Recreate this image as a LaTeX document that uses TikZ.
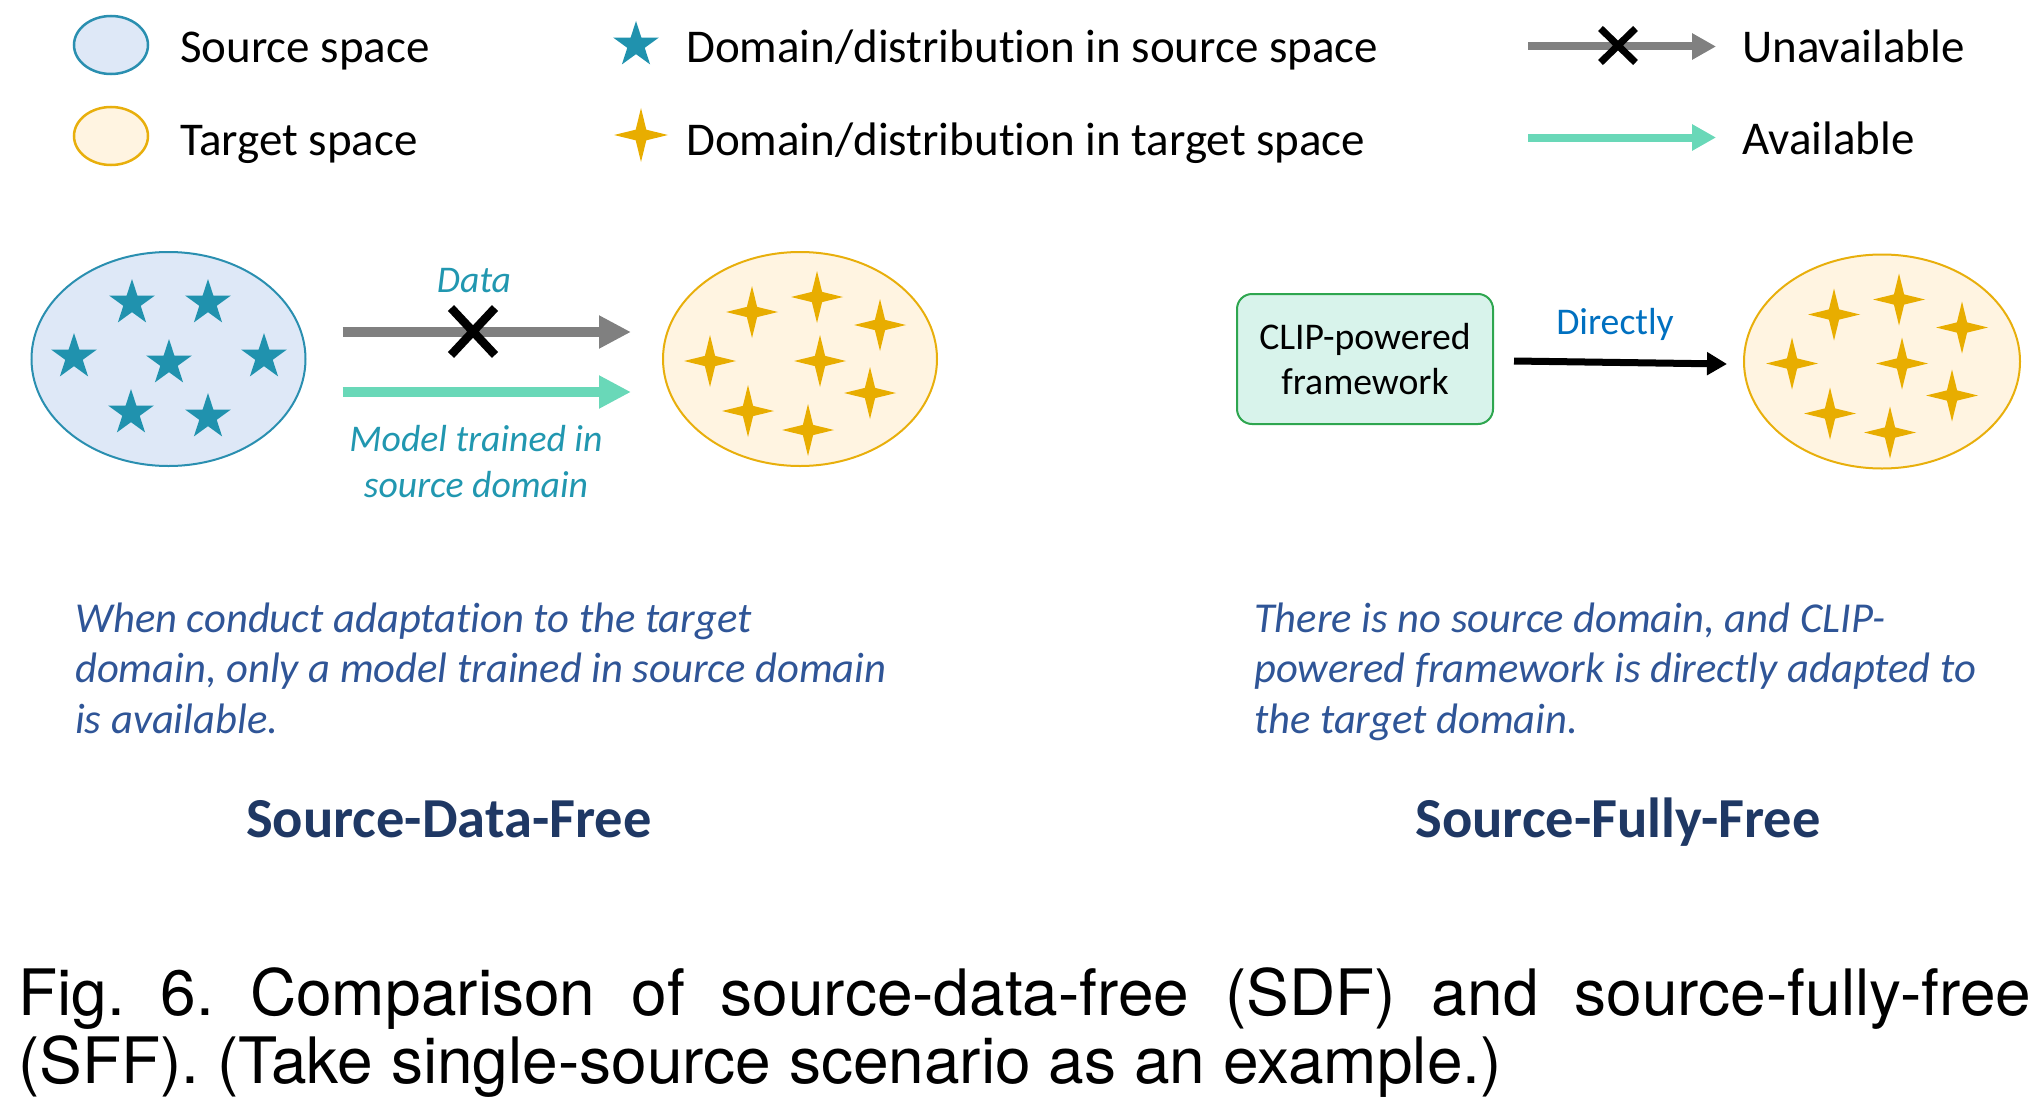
\documentclass[tikz,border=0pt]{standalone}
\usepackage{fontspec}
\setmainfont[Ligatures=CommonOff]{Carlito}
\newfontfamily\capfont{TeX Gyre Heros}
\usetikzlibrary{shapes.geometric,arrows.meta,calc}
\definecolor{starblue}{HTML}{2092AE}
\definecolor{srcfill}{HTML}{DEE8F7}
\definecolor{srcline}{HTML}{2A8FB0}
\definecolor{starorange}{HTML}{E8AD00}
\definecolor{tgtfill}{HTML}{FFF4E1}
\definecolor{tgtline}{HTML}{E8AF0C}
\definecolor{arrowgray}{HTML}{808080}
\definecolor{arrowteal}{HTML}{69D8B8}
\definecolor{labelteal}{HTML}{2197B0}
\definecolor{directblue}{HTML}{0070C0}
\definecolor{desccol}{HTML}{2F5597}
\definecolor{titlecol}{HTML}{1F3864}
\definecolor{clipfill}{HTML}{D8F3EB}
\definecolor{clipline}{HTML}{2EA64F}
\frenchspacing
\begin{document}
\begin{tikzpicture}[x=1pt,y=-1pt,
  srcell/.style={ellipse, draw=srcline, fill=srcfill, line width=2pt, inner sep=0pt},
  tgtell/.style={ellipse, draw=tgtline, fill=tgtfill, line width=2pt, inner sep=0pt},
  bstar/.style={star, star points=5, star point ratio=2.618, fill=starblue, draw=none, inner sep=0pt, minimum size=48pt},
  ostar/.style={star, star points=4, star point ratio=3.6, fill=starorange, draw=none, inner sep=0pt, minimum size=52pt},
  legtxt/.style={anchor=base west, inner sep=0pt, font=\fontsize{47}{56}\selectfont},
  grayarrow/.style={draw=arrowgray, line width=10pt, -{Triangle[length=32pt,width=31pt]}},
  tealarrow/.style={draw=arrowteal, line width=10pt, -{Triangle[length=32pt,width=31pt]}},
  lgrayarrow/.style={draw=arrowgray, line width=8pt, -{Triangle[length=24pt,width=25pt]}},
  ltealarrow/.style={draw=arrowteal, line width=8pt, -{Triangle[length=24pt,width=25pt]}},
  blackarrow/.style={draw=black, line width=7pt, -{Triangle[length=20pt,width=22pt]}},
  xmark/.style={draw=black, line cap=butt},
  lbltxt/.style={anchor=base, inner sep=0pt, text=labelteal, font=\itshape\fontsize{37.7}{45}\selectfont},
  desctxt/.style={anchor=base west, inner sep=0pt, text=desccol, font=\itshape\fontsize{42.6}{50}\selectfont},
  titletxt/.style={anchor=base, inner sep=0pt, text=titlecol, font=\bfseries\fontsize{56.5}{66}\selectfont},
  captxt/.style={anchor=base west, inner sep=0pt, font=\capfont\fontsize{64}{68}\selectfont},
]
\useasboundingbox (0,0) rectangle (2041,1105);

% ---------- legend ----------
\node[srcell, line width=2.5pt, minimum width=74pt, minimum height=58pt] (lsrc) at (111,45) {};
\node[tgtell, line width=2.5pt, minimum width=74pt, minimum height=58pt] (ltgt) at (111,136) {};
\node[legtxt] (lsrctxt) at (180,63) {Source space};
\node[legtxt] (ltgttxt) at (180,155) {Target space};
\node[bstar] (lbstar) at (636,45) {};
\node[ostar, minimum size=54pt] (lostar) at (641,135) {};
\node[legtxt] (lbtxt) at (686,63) {Domain/distribution in source space};
\node[legtxt] (lotxt) at (686,155) {Domain/distribution in target space};
\coordinate (lga) at (1528,46.5);
\coordinate (lgb) at (1716,46.5);
\draw[lgrayarrow] (lga) -- (lgb);
\draw[xmark, line width=7pt] (1618,45.5) +(-17.5,-17) -- +(17.5,17) +(-17.5,17) -- +(17.5,-17);
\coordinate (lta) at (1528,137.5);
\coordinate (ltb) at (1716,137.5);
\draw[ltealarrow] (lta) -- (ltb);
\node[legtxt] (unavtxt) at (1742,63) {Unavailable};
\node[legtxt] (avtxt) at (1742,154) {Available};

% ---------- source-data-free ----------
\node[srcell, minimum width=274pt, minimum height=214pt] (src) at (168.5,359) {};
\foreach \p [count=\i] in {(132,303),(208,303),(74,357),(169,363),(264,357),(131,413),(208,417)}
  \node[bstar] (bs\i) at \p {};
\node[tgtell, minimum width=274pt, minimum height=214pt] (tgt) at (800,359) {};
\foreach \p [count=\i] in {(752,312),(817,297),(880,325),(710,361),(820,361),(870,393),(748,411),(808,430)}
  \node[ostar] (ta\i) at \p {};
\draw[grayarrow] ([xshift=36pt,yshift=27pt]src.east) -- ([xshift=-31pt,yshift=27pt]tgt.west);
\draw[xmark, line width=8.5pt] (473,331.5) +(-22,-23.5) -- +(22,23.5) +(-22,23.5) -- +(22,-23.5);
\draw[tealarrow] ([xshift=36pt,yshift=-33pt]src.east) -- ([xshift=-31pt,yshift=-33pt]tgt.west);
\node[lbltxt] (datatxt) at (474,292) {Data};
\node[lbltxt] (modeltxt1) at (476,451) {Model trained in};
\node[lbltxt] (modeltxt2) at (476,497) {source domain};

\node[desctxt] (dl1) at (75,632) {When conduct adaptation to the target};
\node[desctxt] (dl2) at (75,682) {domain, only a model trained in source domain};
\node[desctxt] (dl3) at (75,733) {is available.};
\node[titletxt] (sdf) at (449,837) {Source-Data-Free};

% ---------- source-fully-free ----------
\node[draw=clipline, fill=clipfill, line width=2pt, rounded corners=15pt,
      minimum width=256pt, minimum height=130pt, inner sep=0pt, align=center,
      font=\fontsize{37.7}{45}\selectfont] (clip) at (1365,359) {CLIP-powered\\framework};
\node[tgtell, minimum width=276pt, minimum height=214pt] (tgt2) at (1882,361.5) {};
\begin{scope}[shift={(1082,2.5)}]
\foreach \p [count=\i] in {(752,312),(817,297),(880,325),(710,361),(820,361),(870,393),(748,411),(808,430)}
  \node[ostar] (tb\i) at \p {};
\end{scope}
\draw[blackarrow] ([xshift=20pt,yshift=-2pt]clip.east) -- ([xshift=-16pt,yshift=-2.5pt]tgt2.west);
\node[anchor=base, inner sep=0pt, text=directblue, font=\fontsize{37.7}{45}\selectfont] (directtxt) at (1615,334) {Directly};

\node[desctxt] (dr1) at (1254,632) {There is no source domain, and CLIP-};
\node[desctxt] (dr2) at (1254,682) {powered framework is directly adapted to};
\node[desctxt] (dr3) at (1254,733) {the target domain.};
\node[titletxt] (sff) at (1618,837) {Source-Fully-Free};

% ---------- caption ----------
\node[captxt] (cap1) at (18,1015) {\makebox[2013pt][s]{Fig. 6. Comparison of source-data-free (SDF) and source-fully-free}};
\node[captxt] (cap2) at (18,1083) {(SFF). (Take single-source scenario as an example.)};
\end{tikzpicture}
\end{document}
